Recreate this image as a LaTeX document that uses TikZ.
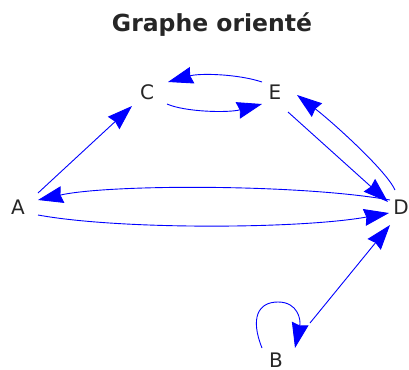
\documentclass[tikz,border=0pt]{standalone}
\usepackage{fontspec}
\setmainfont{DejaVu Sans}
\usetikzlibrary{arrows.meta,calc}
\definecolor{edgeblue}{RGB}{0,0,255}
\begin{document}
\begin{tikzpicture}[x=1pt,y=-1pt,
  vert/.style={inner sep=0pt,font=\fontsize{20}{24}\selectfont,text=black!85},
  edge/.style={draw=edgeblue,line width=0.9pt,
    -{Stealth[length=25pt,width=17pt,inset=2pt,fill=edgeblue]}}]
\useasboundingbox (0,0) rectangle (409,369);
\node[inner sep=0pt,font=\bfseries\fontsize{23.5}{28}\selectfont,text=black!85] (title) at (212,25) {Graphe orienté};
\node[vert] (A) at (18,207) {A};
\node[vert] (C) at (147,92) {C};
\node[vert] (E) at (275,92) {E};
\node[vert] (D) at (401,207) {D};
\node[vert] (B) at (276,360) {B};
% A -> C
\draw[edge] ($(A)+(20,-14)$) -- ($(C)+(-15,14)$);
% E -> C (upper)
\draw[edge] ($(E)+(-13,-10)$) .. controls (238,74) and (200,73) .. ($(C)+(21,-10)$);
% C -> E (lower)
\draw[edge] ($(C)+(20,12)$) .. controls (185,112) and (228,113) .. ($(E)+(-13,12)$);
% E -> D
\draw[edge] ($(E)+(13,20)$) -- ($(D)+(-13,-5)$);
% D -> E
\draw[edge] ($(D)+(-6,-17)$) .. controls (386,170) and (330,120) .. ($(E)+(22,3)$);
% D -> A (upper)
\draw[edge] ($(D)+(-11,-7)$) .. controls (300,184) and (110,184) .. ($(A)+(20,-7)$);
% A -> D (lower)
\draw[edge] ($(A)+(20,8)$) .. controls (120,230) and (300,229) .. ($(D)+(-12,6)$);
% B -> D
\draw[edge] ($(B)+(34,-37)$) -- ($(D)+(-11,18)$);
% loop B -> B
\draw[edge] ($(B)+(-14,-12)$) .. controls (250,318) and (258,302) .. (278,302)
  .. controls (298,302) and (301,320) .. ($(B)+(19,-12)$);
\end{tikzpicture}
\end{document}
